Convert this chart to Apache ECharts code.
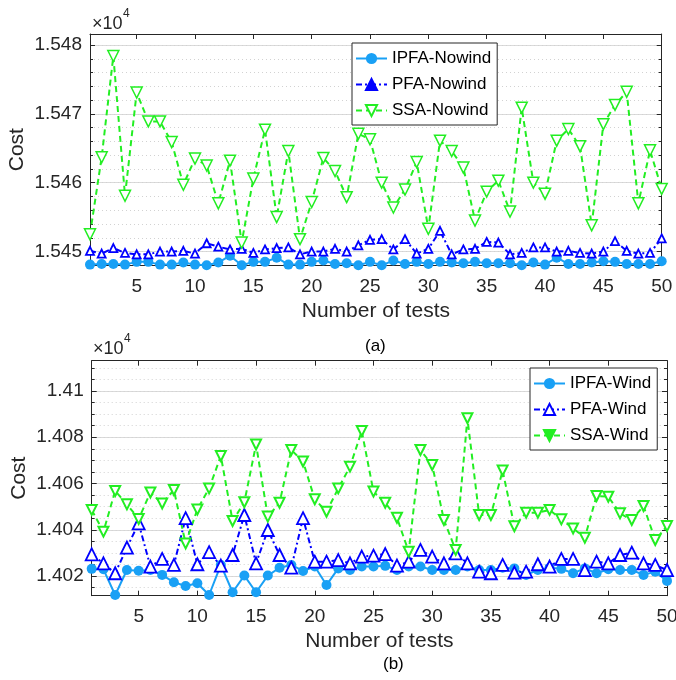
<!DOCTYPE html>
<html><head><meta charset="utf-8">
<script src="https://cdn.jsdelivr.net/npm/echarts@6/dist/echarts.min.js"></script>
<style>html,body{margin:0;padding:0;background:#fff}#c{width:676px;height:680px}</style>
</head><body><div id="c"></div>
<script>
// ---- data ----
const tests = [1,2,3,4,5,6,7,8,9,10,11,12,13,14,15,16,17,18,19,20,21,22,23,24,25,26,27,28,29,30,31,32,33,34,35,36,37,38,39,40,41,42,43,44,45,46,47,48,49,50];
const xTicks = [5,10,15,20,25,30,35,40,45,50];
const yTicksA = [15450,15460,15470,15480];
const yMinorA = [15448,15450,15452,15454,15456,15458,15460,15462,15464,15466,15468,15470,15472,15474,15476,15478,15480];
const yTicksB = [14020,14040,14060,14080,14100];
const yMinorB = [14015,14020,14025,14030,14035,14040,14045,14050,14055,14060,14065,14070,14075,14080,14085,14090,14095,14100,14105,14110];

const ipfaNowind = [15448.1,15448.2,15448.2,15448.1,15448.5,15448.5,15448.1,15448.1,15448.4,15448.1,15448.0,15448.4,15449.4,15448.0,15448.5,15448.5,15449.1,15448.1,15448.1,15448.5,15448.7,15448.2,15448.3,15448.0,15448.5,15448.0,15448.7,15448.2,15448.5,15448.2,15448.5,15448.4,15448.3,15448.5,15448.3,15448.3,15448.3,15448.0,15448.4,15448.1,15449.1,15448.2,15448.2,15448.4,15448.6,15448.5,15448.2,15448.2,15448.2,15448.6];
const pfaNowind = [15450.1,15449.7,15450.5,15449.8,15449.6,15449.6,15450.0,15450.0,15450.1,15449.7,15451.2,15450.7,15450.3,15450.4,15449.8,15450.3,15450.5,15450.6,15449.6,15450.0,15450.0,15450.4,15450.0,15450.9,15451.7,15451.8,15450.3,15451.8,15449.7,15450.4,15453.0,15449.6,15450.3,15450.4,15451.4,15451.3,15449.6,15449.8,15450.6,15450.6,15450.0,15450.1,15449.8,15449.7,15450.0,15451.5,15450.1,15449.7,15449.8,15451.9];
const ssaNowind = [15452.5,15463.7,15478.4,15458.1,15473.1,15468.9,15468.9,15465.9,15459.7,15463.5,15462.5,15457.0,15463.2,15451.3,15460.6,15467.7,15455.0,15464.6,15451.8,15457.2,15463.6,15461.7,15457.9,15467.1,15466.3,15460.0,15456.4,15459.0,15463.0,15453.3,15466.1,15464.6,15462.2,15454.5,15458.7,15460.3,15455.8,15470.9,15460.0,15458.4,15466.1,15467.8,15465.3,15453.8,15468.5,15471.3,15473.2,15457.0,15464.7,15459.1];

const ipfaWind = [14023.1,14022.9,14011.8,14022.6,14022.3,14022.6,14020.5,14017.3,14015.7,14016.9,14011.8,14024.8,14013.0,14020.2,14013.0,14020.2,14023.6,14024.8,14022.2,14024.1,14016.1,14023.3,14022.6,14024.1,14024.1,14024.4,14022.6,14024.1,14024.1,14022.6,14022.6,14022.6,14024.1,14022.6,14022.6,14023.6,14023.3,14020.5,14022.6,14023.6,14023.1,14021.2,14023.3,14021.2,14022.9,14022.6,14022.6,14020.5,14021.9,14017.9];
const pfaWind = [14029.4,14025.5,14021.2,14032.3,14042.8,14024.1,14027.4,14024.8,14045.0,14025.1,14030.3,14024.5,14029.1,14046.4,14025.5,14039.9,14029.1,14023.6,14045.0,14026.2,14026.2,14026.9,14025.5,14028.4,14028.8,14029.5,14024.5,14026.2,14031.3,14028.4,14025.5,14029.8,14025.5,14021.9,14021.2,14024.8,14021.5,14021.9,14025.1,14024.1,14027.4,14027.4,14022.6,14026.2,14025.5,14029.1,14030.1,14025.5,14024.8,14022.6];
const ssaWind = [14048.6,14039.2,14056.8,14051.0,14044.7,14056.1,14051.4,14057.2,14034.1,14048.8,14057.9,14071.9,14043.8,14051.9,14076.9,14045.7,14051.7,14074.5,14069.5,14053.2,14047.8,14057.9,14067.3,14082.7,14056.5,14051.7,14045.2,14030.5,14074.5,14068.0,14044.2,14031.3,14088.2,14046.4,14046.4,14065.6,14041.5,14047.4,14047.4,14048.6,14044.5,14040.6,14036.6,14054.6,14054.3,14047.1,14044.2,14050.3,14035.6,14041.6];

// ---- styling ----
const FONT = '"Liberation Sans", Arial, Helvetica, sans-serif';
const AX = '#262626';
const C_IPFA = '#19a0f5', C_PFA = '#0000ff', C_SSA = '#22ee22';
function fmtY(v){ return String(parseFloat((v/10000).toFixed(4))); }
function pairs(vals){ return tests.map((t,i)=>[t, vals[i]]); }

function xAxes(g){
  const line = {show:true,onZero:false,lineStyle:{color:AX,width:1}};
  const tick = {show:true,inside:true,length:5,customValues:xTicks,lineStyle:{color:AX,width:1}};
  return [
    {gridIndex:g,type:'value',min:1,max:50,position:'bottom',axisLine:line,axisTick:tick,
     axisLabel:{show:true,customValues:xTicks,color:AX,fontSize:19,fontFamily:FONT,margin:12},
     splitLine:{show:false},
     name:'Number of tests',nameLocation:'middle',nameGap:35,nameMoveOverlap:false,
     nameTextStyle:{color:AX,fontSize:21,fontFamily:FONT}},
    {gridIndex:g,type:'value',min:1,max:50,position:'top',axisLine:line,axisTick:tick,
     axisLabel:{show:false},splitLine:{show:false}}
  ];
}
function yAxes(g,min,max,majors,minors){
  const line = {show:true,onZero:false,lineStyle:{color:AX,width:1}};
  return [
    {gridIndex:g,type:'value',min,max,position:'left',axisLine:line,
     axisTick:{show:true,inside:true,length:5,customValues:majors,lineStyle:{color:AX}},
     axisLabel:{show:true,customValues:majors,formatter:fmtY,color:AX,fontSize:19,fontFamily:FONT,margin:8},
     splitLine:{show:true,lineStyle:{color:'#dadada',width:1,type:'solid'}},
     name:'Cost',nameLocation:'middle',nameGap:62,nameMoveOverlap:false,
     nameTextStyle:{color:AX,fontSize:21,fontFamily:FONT}},
    {gridIndex:g,type:'value',min,max,position:'right',axisLine:line,
     axisTick:{show:true,inside:true,length:5,customValues:majors,lineStyle:{color:AX}},
     axisLabel:{show:false},splitLine:{show:false}},
    {gridIndex:g,type:'value',min,max,position:'left',axisLine:{show:false},
     axisTick:{show:true,inside:true,length:3,customValues:minors,lineStyle:{color:AX}},
     axisLabel:{show:false},
     splitLine:{show:true,lineStyle:{color:'#d2d2d2',width:1,type:[1,3]}}},
    {gridIndex:g,type:'value',min,max,position:'right',axisLine:{show:false},
     axisTick:{show:true,inside:true,length:3,customValues:minors,lineStyle:{color:AX}},
     axisLabel:{show:false},splitLine:{show:false}}
  ];
}
function lineSeries(name,xi,yi,vals,o){
  return Object.assign({type:'line',name,xAxisIndex:xi,yAxisIndex:yi,data:pairs(vals),
    showSymbol:true,clip:false,emphasis:{disabled:true},animation:false},o);
}
function ttl(left,top,text,size,color){
  return {text,left,top,padding:0,itemGap:0,
    textStyle:{fontSize:size,fontWeight:'normal',fontFamily:FONT,color}};
}

const chart = echarts.init(document.getElementById('c'),null,{renderer:'canvas'});
chart.setOption({
  animation:false,
  backgroundColor:'#fff',
  title:[
    ttl(92,15,'×10',18,AX),
    ttl(123,8,'4',12,AX),
    ttl(93,340,'×10',18,AX),
    ttl(124,333,'4',12,AX),
    ttl(365,338,'(a)',17,'#000'),
    ttl(383,656,'(b)',17,'#000')
  ],
  grid:[
    {left:90,top:34,width:571.7,height:231.3,outerBoundsMode:'none'},
    {left:91.7,top:360.7,width:575.3,height:235,outerBoundsMode:'none'}
  ],
  xAxis:[...xAxes(0),...xAxes(1)],
  yAxis:[...yAxes(0,15448,15481.6,yTicksA,yMinorA),...yAxes(1,14011.5,14113.1,yTicksB,yMinorB)],
  legend:[
    {orient:'vertical',left:352,top:43,itemWidth:31,itemHeight:14,itemGap:9,padding:[7,6,6,3],
     borderColor:AX,borderWidth:1,backgroundColor:'#fff',selectedMode:false,z:10,
     textStyle:{fontSize:17,color:'#000',fontFamily:FONT},
     data:[{name:'IPFA-Nowind'},{name:'PFA-Nowind',itemStyle:{color:C_PFA}},{name:'SSA-Nowind'}]},
    {orient:'vertical',left:530,top:368,itemWidth:31,itemHeight:14,itemGap:9,padding:[7,6,6,3],
     borderColor:AX,borderWidth:1,backgroundColor:'#fff',selectedMode:false,z:10,
     textStyle:{fontSize:17,color:'#000',fontFamily:FONT},
     data:[{name:'IPFA-Wind'},{name:'PFA-Wind'},{name:'SSA-Wind',itemStyle:{color:C_SSA}}]}
  ],
  series:[
    lineSeries('IPFA-Nowind',0,0,ipfaNowind,{symbol:'circle',symbolSize:10,
      lineStyle:{color:C_IPFA,width:2},itemStyle:{color:C_IPFA,borderWidth:0}}),
    lineSeries('PFA-Nowind',0,0,pfaNowind,{symbol:'triangle',symbolSize:8,
      lineStyle:{color:C_PFA,width:2,type:[6,3,2,3]},itemStyle:{color:'#fff',borderColor:C_PFA,borderWidth:1.8}}),
    lineSeries('SSA-Nowind',0,0,ssaNowind,{symbol:'triangle',symbolRotate:180,symbolSize:11,
      lineStyle:{color:C_SSA,width:2,type:[6,4]},itemStyle:{color:'#fff',borderColor:C_SSA,borderWidth:1.5}}),
    lineSeries('IPFA-Wind',2,4,ipfaWind,{symbol:'circle',symbolSize:10,
      lineStyle:{color:C_IPFA,width:2},itemStyle:{color:C_IPFA,borderWidth:0}}),
    lineSeries('PFA-Wind',2,4,pfaWind,{symbol:'triangle',symbolSize:12,
      lineStyle:{color:C_PFA,width:2,type:[6,3,2,3]},itemStyle:{color:'#fff',borderColor:C_PFA,borderWidth:1.8}}),
    lineSeries('SSA-Wind',2,4,ssaWind,{symbol:'triangle',symbolRotate:180,symbolSize:10,
      lineStyle:{color:C_SSA,width:2,type:[6,4]},itemStyle:{color:'#fff',borderColor:C_SSA,borderWidth:2}})
  ]
});
</script></body></html>
